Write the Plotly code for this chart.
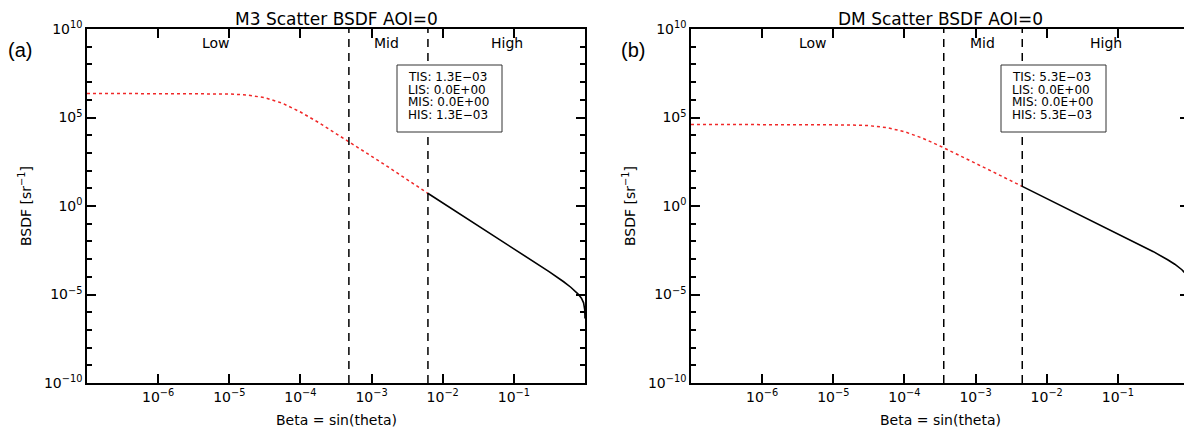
import plotly.graph_objects as go

# ---------------- data (log10 units) ----------------
# Panel (a): M3
m3_low_log_beta = [-7.0, -6.0, -5.5, -5.0, -4.75, -4.5, -4.25, -4.0, -3.75, -3.5, -3.317, -3.0, -2.75, -2.5, -2.21]
m3_low_log_bsdf = [6.36, 6.36, 6.35, 6.33, 6.27, 6.12, 5.80, 5.31, 4.73, 4.10, 3.63, 2.81, 2.16, 1.51, 0.72]
m3_high_log_beta = [-2.21, -2.0, -1.5, -1.0, -0.5, -0.3, -0.2, -0.1, -0.05, -0.02, -0.01, -0.004, -0.001, -0.0004]
m3_high_log_bsdf = [0.72, 0.18, -1.12, -2.42, -3.72, -4.28, -4.59, -4.96, -5.21, -5.47, -5.64, -5.85, -6.16, -6.36]
m3_bounds = [4.8e-4, 6.2e-3]
m3_stats = ["TIS: 1.3E\u221203", "LIS: 0.0E+00", "MIS: 0.0E+00", "HIS: 1.3E\u221203"]

# Panel (b): DM
dm_low_log_beta = [-7.0, -6.0, -5.5, -5.0, -4.75, -4.5, -4.25, -4.0, -3.75, -3.5, -3.25, -3.0, -2.75, -2.5, -2.344]
dm_low_log_bsdf = [4.61, 4.61, 4.61, 4.60, 4.58, 4.54, 4.43, 4.20, 3.84, 3.39, 2.91, 2.42, 1.92, 1.42, 1.11]
dm_high_log_beta = [-2.344, -2.0, -1.5, -1.0, -0.5, -0.3, -0.2, -0.1, -0.05, -0.02, -0.01, -0.004, -0.001, -0.0004]
dm_high_log_bsdf = [1.11, 0.42, -0.58, -1.58, -2.58, -3.04, -3.29, -3.60, -3.82, -4.07, -4.23, -4.44, -4.75, -4.95]
dm_bounds = [3.57e-4, 4.53e-3]
dm_stats = ["TIS: 5.3E\u221203", "LIS: 0.0E+00", "MIS: 0.0E+00", "HIS: 5.3E\u221203"]

titles = ["M3 Scatter BSDF AOI=0", "DM Scatter BSDF AOI=0"]
panel_tags = ["(a)", "(b)"]
region_names = ["Low", "Mid", "High"]

x_tick_exps = [-6, -5, -4, -3, -2, -1]
y_major_exps = [-10, -5, 0, 5, 10]
y_minor_exps = [e for e in range(-10, 11) if e not in y_major_exps]

# ---------------- layout constants (window pixels) ----------------
# the page body has an 8px margin, so the figure is drawn 8px in from the window edge
OFF = 8
W, H = 1192 - OFF, 435 - OFF
def px(x):
    return (x - OFF) / W
def py(y):
    return 1 - (y - OFF) / H

PLOT_TOP, PLOT_BOT = 29, 383
panels = [
    dict(left=87, right=585, xa="x", ya="y", box=(397, 502), text_x=406,
         region_x=[216, 386, 507], tag_x=20, ytitle_x=25),
    dict(left=691, right=1189, xa="x2", ya="y2", box=(1001, 1106), text_x=1010,
         region_x=[813, 982, 1106], tag_x=633, ytitle_x=629),
]

FONT = "DejaVu Sans"
BLACK = "black"

def sup(e):
    s = str(e).replace("-", "\u2212")
    return "10<sup>" + s + "</sup>"

fig = go.Figure()

datasets = [
    (m3_low_log_beta, m3_low_log_bsdf, m3_high_log_beta, m3_high_log_bsdf, m3_bounds, m3_stats),
    (dm_low_log_beta, dm_low_log_bsdf, dm_high_log_beta, dm_high_log_bsdf, dm_bounds, dm_stats),
]

for i, (lb, lv, hb, hv, bounds, stats) in enumerate(datasets):
    p = panels[i]
    fig.add_trace(go.Scatter(
        x=[10 ** v for v in lb], y=[10 ** v for v in lv], mode="lines",
        line=dict(color="#f02828", width=1.5, dash="dot"),
        xaxis=p["xa"], yaxis=p["ya"], showlegend=False, hoverinfo="skip"))
    fig.add_trace(go.Scatter(
        x=[10 ** v for v in hb], y=[10 ** v for v in hv], mode="lines",
        line=dict(color=BLACK, width=1.6),
        xaxis=p["xa"], yaxis=p["ya"], showlegend=False, hoverinfo="skip"))
    for b in bounds:
        fig.add_shape(type="line", xref=p["xa"], yref=p["ya"] + " domain",
                      x0=b, x1=b, y0=0, y1=1,
                      line=dict(color=BLACK, width=1.5, dash="8px,6px"))
    # stats box
    fig.add_shape(type="rect", xref="paper", yref="paper",
                  x0=px(p["box"][0]), x1=px(p["box"][1]), y0=py(132), y1=py(65),
                  line=dict(color="#333333", width=1), fillcolor="white")
    for j, s in enumerate(stats):
        fig.add_annotation(x=px(p["text_x"]), y=py(77 + j * 12.7), xref="paper", yref="paper",
                           text=s, showarrow=False, xanchor="left", yanchor="middle",
                           font=dict(family=FONT, size=12, color=BLACK))
    # region labels
    for name, rx in zip(region_names, p["region_x"]):
        fig.add_annotation(x=px(rx), y=py(43), xref="paper", yref="paper", text=name,
                           showarrow=False, xanchor="center", yanchor="middle",
                           font=dict(family=FONT, size=14, color=BLACK))
    # title (anchored at the very top of the figure)
    fig.add_annotation(x=px((p["left"] + p["right"]) / 2), y=1.0, xref="paper", yref="paper",
                       text=titles[i], showarrow=False, xanchor="center", yanchor="top",
                       borderpad=0,
                       font=dict(family=FONT, size=17, color=BLACK))
    # x title
    fig.add_annotation(x=px((p["left"] + p["right"]) / 2), y=py(420), xref="paper", yref="paper",
                       text="Beta = sin(theta)", showarrow=False, xanchor="center", yanchor="middle",
                       font=dict(family=FONT, size=14, color=BLACK))
    # y title
    fig.add_annotation(x=px(p["ytitle_x"]), y=py((PLOT_TOP + PLOT_BOT) / 2), xref="paper", yref="paper",
                       text="BSDF [sr<sup>\u22121</sup>]", showarrow=False, textangle=-90,
                       xanchor="center", yanchor="middle",
                       font=dict(family=FONT, size=14, color=BLACK))
    # panel tag
    fig.add_annotation(x=px(p["tag_x"]), y=py(50), xref="paper", yref="paper",
                       text=panel_tags[i], showarrow=False, xanchor="center", yanchor="middle",
                       font=dict(family="Liberation Sans", size=20, color=BLACK))

axis_common = dict(showgrid=False, zeroline=False, showline=True, linecolor=BLACK, linewidth=1.5,
                   mirror="ticks", ticks="inside", tickwidth=1.5, tickcolor=BLACK,
                   tickfont=dict(family=FONT, size=14, color=BLACK), automargin=False)

xaxis_cfg = dict(type="log", range=[-7, 0], ticklen=9,
                 tickmode="array", tickvals=[10 ** e for e in x_tick_exps],
                 ticktext=[sup(e) for e in x_tick_exps], **axis_common)
yaxis_cfg = dict(type="log", range=[-10, 10], ticklen=9,
                 tickmode="array", tickvals=[10.0 ** e for e in y_major_exps],
                 ticktext=[sup(e) for e in y_major_exps],
                 minor=dict(tickmode="array", tickvals=[10.0 ** e for e in y_minor_exps],
                            ticklen=5, tickwidth=1.5, tickcolor=BLACK, ticks="inside",
                            showgrid=False),
                 **axis_common)

fig.update_layout(
    width=W, height=H,
    margin=dict(l=0, r=0, t=0, b=0),
    paper_bgcolor="white", plot_bgcolor="white",
    showlegend=False,
    xaxis=dict(domain=[px(87), px(585)], anchor="y", **xaxis_cfg),
    yaxis=dict(domain=[py(PLOT_BOT), py(PLOT_TOP)], anchor="x", **yaxis_cfg),
    xaxis2=dict(domain=[px(691), px(1189)], anchor="y2", **xaxis_cfg),
    yaxis2=dict(domain=[py(PLOT_BOT), py(PLOT_TOP)], anchor="x2", **yaxis_cfg),
)

fig.write_html("out.html")
